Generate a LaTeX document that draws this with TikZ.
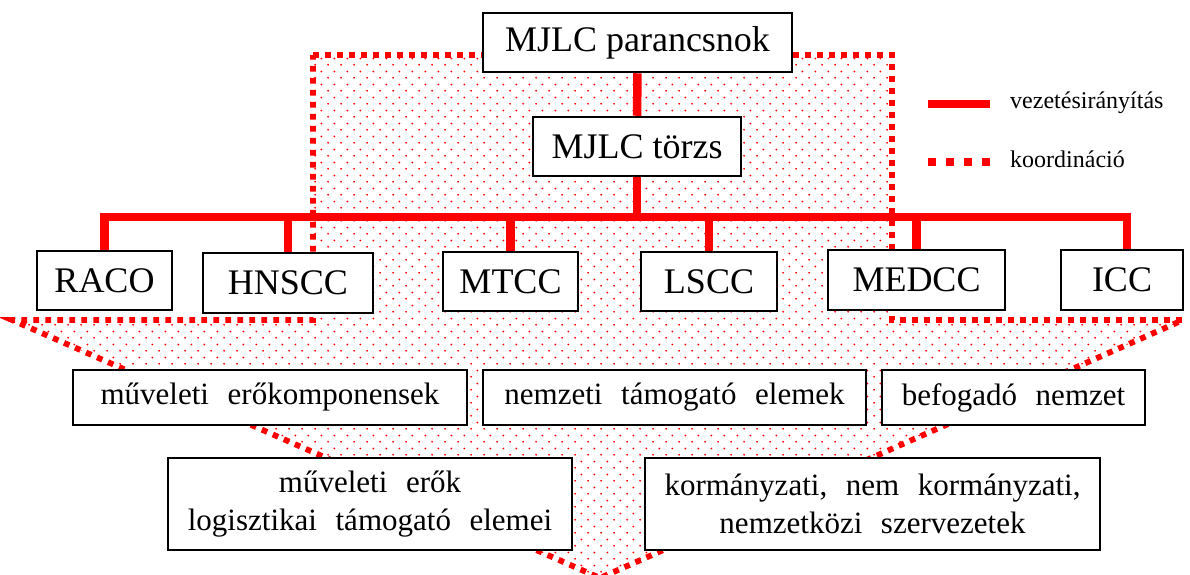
\documentclass[tikz,border=0pt]{standalone}
\usepackage{fontspec}
\setmainfont{Liberation Serif}
\usetikzlibrary{patterns,backgrounds}
% light red stipple used inside the coordination arrow
\pgfdeclarepatternformonly{stipple}{\pgfpointorigin}{\pgfpoint{13.3pt}{13.3pt}}{\pgfpoint{13.3pt}{13.3pt}}{%
  \pgfpathcircle{\pgfpoint{3.3pt}{3.3pt}}{1.05pt}%
  \pgfpathcircle{\pgfpoint{9.95pt}{9.95pt}}{1.05pt}%
  \pgfusepath{fill}}

\begin{document}
\begin{tikzpicture}[x=1pt,y=-1pt,
  box/.style={draw=black, line width=2.5pt, fill=white, inner sep=0pt, align=center},
  big/.style={box, font=\fontsize{36}{43}\selectfont},
  wide/.style={box, font=\fontsize{31}{38}\selectfont, execute at begin node={\spaceskip=0.6em\relax}},
  ctrl/.style={red, line width=8.5pt},
  coordline/.style={red, line width=5.8pt, dash pattern=on 5.8pt off 6.2pt},
  legtext/.style={font=\fontsize{24}{29}\selectfont, anchor=base west, inner sep=0pt}]

\useasboundingbox (0,0) rectangle (1190,574);

% command hierarchy
\node[big, minimum width=309, minimum height=59] (cmd) at (637.5,42.5) {MJLC parancsnok};
\node[big, minimum width=208, minimum height=59] (staff) at (637,146.5) {MJLC törzs};

\node[big, minimum width=135, minimum height=59] (raco)  at (104.5,280.5) {RACO};
\node[big, minimum width=170, minimum height=60] (hnscc) at (288,283) {HNSCC};
\node[big, minimum width=135, minimum height=59] (mtcc)  at (510.5,281.5) {MTCC};
\node[big, minimum width=136, minimum height=59] (lscc)  at (709,281.5) {LSCC};
\node[big, minimum width=177, minimum height=60] (medcc) at (916.5,280) {MEDCC};
\node[big, minimum width=122, minimum height=60] (icc)   at (1122,280) {ICC};

% supported elements
\node[wide, minimum width=394, minimum height=55] (ops)  at (270,397.5) {műveleti erőkomponensek};
\node[wide, minimum width=383, minimum height=55] (nat)  at (674.5,397.5) {nemzeti támogató elemek};
\node[wide, minimum width=263, minimum height=55] (host) at (1013.5,397.5) {befogadó nemzet};
\node[wide, minimum width=404, minimum height=92] (log)  at (370,504) {műveleti erők\\logisztikai támogató elemei};
\node[wide, minimum width=455, minimum height=92] (gov)  at (872.5,504) {kormányzati, nem kormányzati,\\nemzetközi szervezetek};

\begin{scope}[on background layer]
  % coordination arrow: shaft, wings and tip
  \coordinate (a1) at (313,55);
  \coordinate (a2) at (892,55);
  \coordinate (a3) at (892,320);
  \coordinate (a4) at (1183,320);
  \coordinate (a5) at (600,578);
  \coordinate (a6) at (12,320);
  \coordinate (a7) at (313,320);
  \path[pattern=stipple, pattern color=red] (a1) -- (a2) -- (a3) -- (a4) -- (a5) -- (a6) -- (a7) -- cycle;
  \draw[coordline] (a1) -- (a2) -- (a3) -- (a4) -- (a5) -- (a6) -- (a7) -- cycle;

  % command lines
  \coordinate (bus) at (637,217);
  \draw[ctrl] (cmd) -- (staff);
  \foreach \n in {raco,hnscc,mtcc,lscc,medcc}
    \draw[ctrl] (staff.south) -- (bus) -| (\n.north);
  \draw[ctrl] (staff.south) -- (bus) -| ([xshift=5pt]icc.north);
\end{scope}

% legend
\coordinate (l1a) at (928,104);
\coordinate (l1b) at (990,104);
\coordinate (l2a) at (928,162);
\coordinate (l2b) at (990,162);
\draw[red, line width=8pt] (l1a) -- (l1b);
\draw[red, line width=8pt, dash pattern=on 8pt off 10pt] (l2a) -- (l2b);
\node[legtext] (leg1) at (1010,108) {vezetésirányítás};
\node[legtext] (leg2) at (1010,167) {koordináció};
\end{tikzpicture}
\end{document}
